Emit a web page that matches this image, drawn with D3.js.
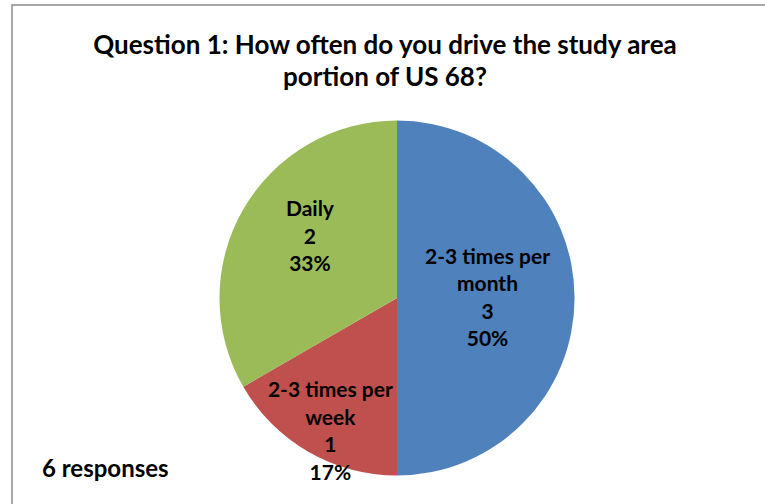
<!DOCTYPE html>
<html>
<head>
<meta charset="utf-8">
<script src="https://cdn.jsdelivr.net/npm/d3@7"></script>
<style>
  body { margin: 0; background: #fff; }
  svg { display: block; }
  text { font-family: Lato, "Open Sans", sans-serif; font-weight: bold; fill: #000; }
</style>
</head>
<body>
<div class="chart"></div>
<script>
//Data
var categories = ["2-3 times per month", "2-3 times per week", "Daily"];
var labelLines = [["2-3 times per", "month"], ["2-3 times per", "week"], ["Daily"]];
var counts = [3, 1, 2];
var percents = ["50%", "17%", "33%"];
var colors = ["#4F81BD", "#C0504D", "#9BBB59"];
var titleLines = ["Question 1: How often do you drive the study area", "portion of US 68?"];
var footnote = "6 responses";

//View
var width = 765,
    height = 504,
    cx = 397,
    cy = 298,
    radius = 177.5;

var svg = d3.select(".chart")
    .append("svg")
    .attr("width", width)
    .attr("height", height);

//Frame around the chart (runs off the page at right and bottom)
svg.append("rect")
    .attr("x", 12)
    .attr("y", 5)
    .attr("width", 800)
    .attr("height", 540)
    .attr("fill", "#fff")
    .attr("stroke", "#8c8c8c")
    .attr("stroke-width", 1.5);

//Title
svg.append("g")
    .selectAll("text")
    .data(titleLines)
    .join("text")
    .attr("x", 385)
    .attr("y", (d, i) => 54 + i * 32)
    .attr("text-anchor", "middle")
    .style("font-size", "26px")
    .text(d => d);

//Pie
var pie = d3.pie().sort(null).value(d => d);
var arcs = pie(counts);
var arc = d3.arc().innerRadius(0).outerRadius(radius);

var g = svg.append("g").attr("transform", "translate(" + cx + "," + cy + ")");

g.selectAll("path")
    .data(arcs)
    .join("path")
    .attr("d", arc)
    .attr("fill", (d, i) => colors[i]);

//Labels: how far out from the centre each label sits (share of radius),
//and a small nudge of the angle, the way Excel "best fit" places them
var labelRadius = [0.51, 0.84, 0.6];
var labelTurn = [0, -0.06, 0.09];
var lineHeight = 27.5;

arcs.forEach(function (d, i) {
    var lines = labelLines[i].concat([String(counts[i]), percents[i]]);
    var a = (d.startAngle + d.endAngle) / 2 + labelTurn[i];
    var r = radius * labelRadius[i];
    var pos = [Math.sin(a) * r, -Math.cos(a) * r];
    var top = pos[1] - (lines.length - 1) * lineHeight / 2 + 7;
    g.append("g")
        .selectAll("text")
        .data(lines)
        .join("text")
        .attr("x", pos[0])
        .attr("y", (t, j) => top + j * lineHeight)
        .attr("text-anchor", "middle")
        .style("font-size", "21px")
        .text(t => t);
});

//Footnote
svg.append("text")
    .attr("x", 42)
    .attr("y", 477)
    .style("font-size", "24px")
    .text(footnote);
</script>
</body>
</html>
